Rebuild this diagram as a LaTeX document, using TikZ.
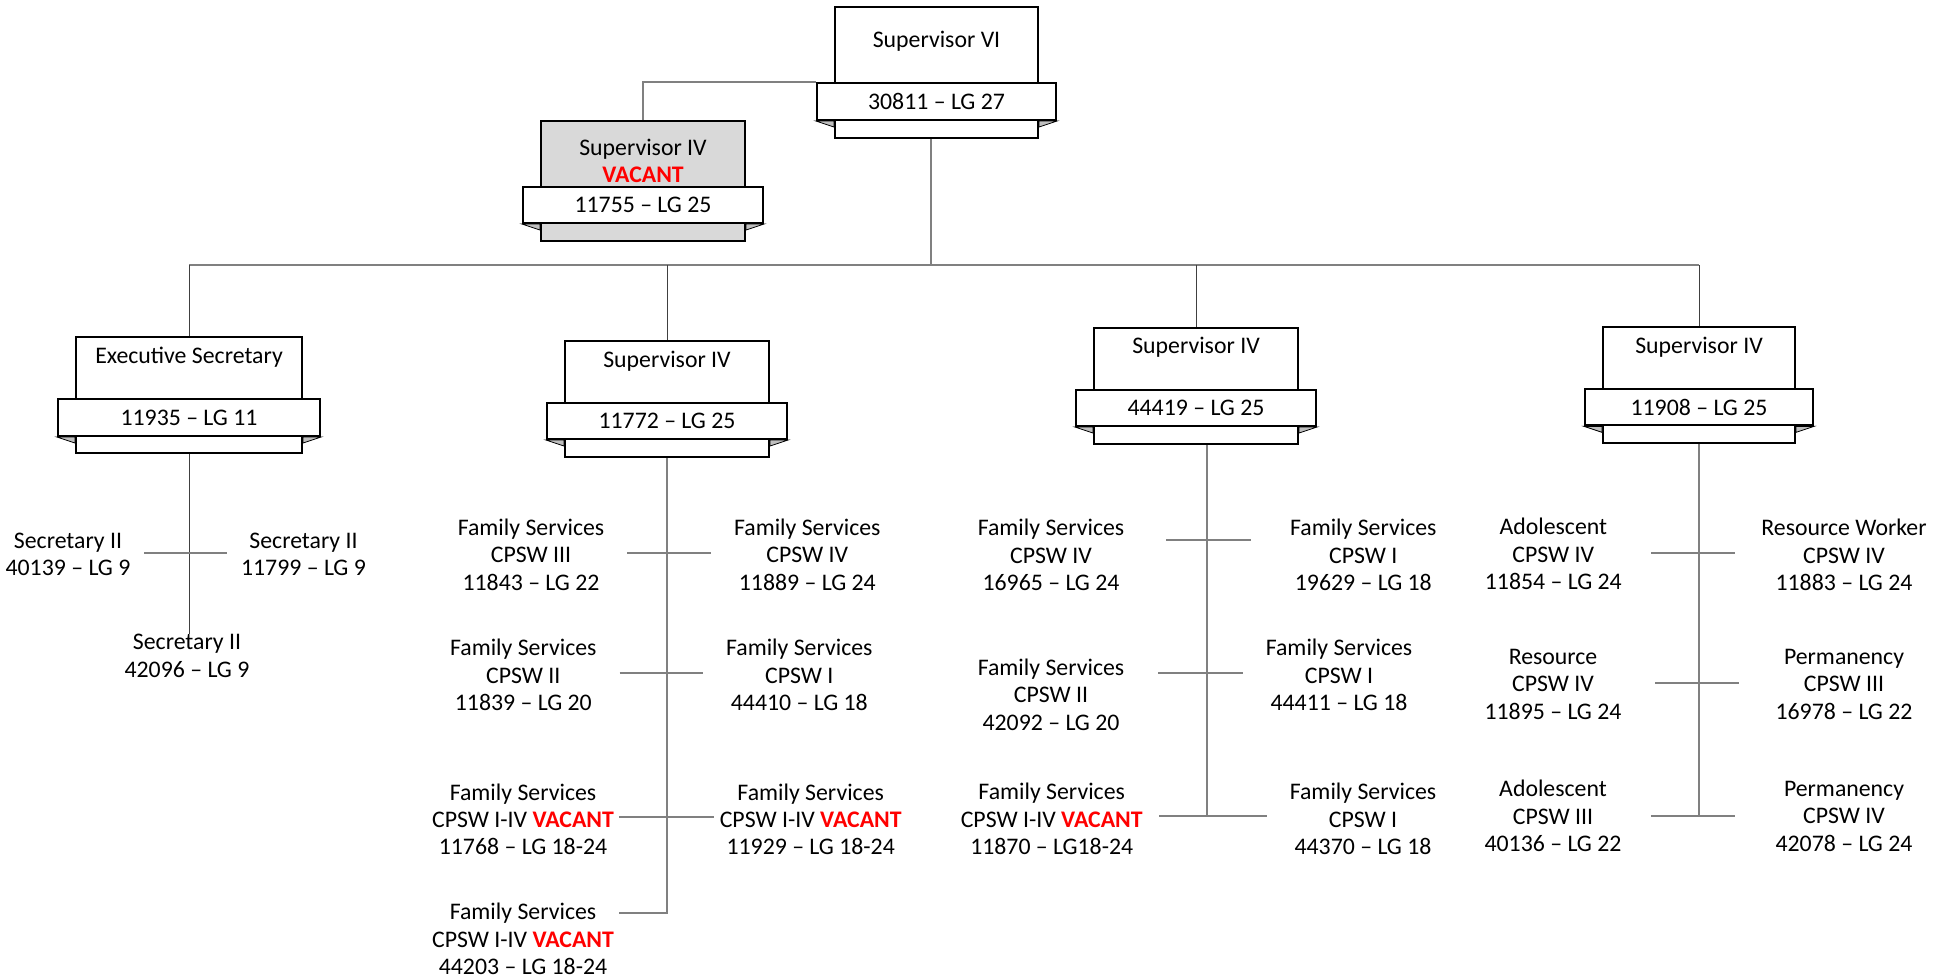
\documentclass[tikz,border=0pt]{standalone}
\usepackage{fontspec}
\setmainfont{Carlito}
\usepackage{tikz}
\usetikzlibrary{positioning}

\definecolor{vacred}{HTML}{FF0000}
\definecolor{vacgray}{HTML}{D9D9D9}
\definecolor{tabgray}{HTML}{BFBFBF}
\definecolor{linkgray}{HTML}{808080}

\newcommand{\px}{0.01714cm}
\newcommand{\vac}{\textbf{\color{vacred}VACANT}}

\tikzset{
	posbox/.style={draw, line width=1pt, fill=white, inner sep=0pt},
	ribbon/.style={draw, line width=1pt, fill=white, inner sep=0pt},
	tabfill/.style={draw, line width=0.4pt, fill=tabgray},
	title/.style={inner sep=0pt, align=center},
	staff/.style={align=center, inner sep=0pt, minimum width=192*\px},
	link/.style={draw=linkgray, line width=1pt},
	drop/.style={draw=black!75, line width=0.4pt}
}

\begin{document}
\begin{tikzpicture}[x=\px, y=-\px, every node/.style={font=\fontsize{11.6}{13.4}\selectfont}]
	\useasboundingbox (0,0) rectangle (1951,977);

	% staff under each supervisor
	\node[staff, minimum width=152*\px] (sa) at (68,554.5) {Secretary II\\40139 -- LG 9};
	\node[staff, minimum width=152*\px] (sb) at (303.5,554.5) {Secretary II\\11799 -- LG 9};
	\node[staff, minimum width=152*\px] (sc) at (187,656) {Secretary II\\42096 -- LG 9};

	\node[staff] (f1) at (531,554.7) {Family Services\\CPSW III\\11843 -- LG 22};
	\node[staff] (f2) at (807.3,554.7) {Family Services\\CPSW IV\\11889 -- LG 24};
	\node[staff] (f3) at (523.3,675) {Family Services\\CPSW II\\11839 -- LG 20};
	\node[staff] (f4) at (799.3,675) {Family Services\\CPSW I\\44410 -- LG 18};
	\node[staff] (f5) at (523,819.3) {Family Services\\CPSW I-IV \vac\\11768 -- LG 18-24};
	\node[staff] (f6) at (810.7,819.3) {Family Services\\CPSW I-IV \vac\\11929 -- LG 18-24};
	\node[staff] (f7) at (523,939) {Family Services\\CPSW I-IV \vac\\44203 -- LG 18-24};

	\node[staff, minimum width=230*\px] (g1) at (1051,555) {Family Services\\CPSW IV\\16965 -- LG 24};
	\node[staff, minimum width=224*\px] (g2) at (1363.3,555) {Family Services\\CPSW I\\19629 -- LG 18};
	\node[staff, minimum width=214*\px] (g3) at (1051,694.6) {Family Services\\CPSW II\\42092 -- LG 20};
	\node[staff] (g4) at (1339,675) {Family Services\\CPSW I\\44411 -- LG 18};
	\node[staff, minimum width=214*\px] (g5) at (1051.7,819) {Family Services\\CPSW I-IV \vac\\11870 -- LG18-24};
	\node[staff] (g6) at (1363,819) {Family Services\\CPSW I\\44370 -- LG 18};

	\node[staff, minimum width=195*\px] (h1) at (1553.3,554) {Adolescent\\CPSW IV\\11854 -- LG 24};
	\node[staff, minimum width=218*\px] (h2) at (1844,555) {Resource Worker\\CPSW IV\\11883 -- LG 24};
	\node[staff, minimum width=204*\px] (h3) at (1553,684) {Resource\\CPSW IV\\11895 -- LG 24};
	\node[staff, minimum width=209*\px] (h4) at (1844,684) {Permanency\\CPSW III\\16978 -- LG 22};
	\node[staff, minimum width=195*\px] (h5) at (1553,816) {Adolescent\\CPSW III\\40136 -- LG 22};
	\node[staff, minimum width=218*\px] (h6) at (1844,816) {Permanency\\CPSW IV\\42078 -- LG 24};

	% boxes
	\node[posbox, minimum width=203*\px, minimum height=131*\px] (s6) at (936.5,72.5) {};
	\node[posbox, fill=vacgray, minimum width=204*\px, minimum height=120*\px] (s4v) at (643,181) {};
	\node[posbox, minimum width=226*\px, minimum height=116*\px] (es) at (189,395) {};
	\node[posbox, minimum width=204*\px, minimum height=116*\px] (s4a) at (667,399) {};
	\node[posbox, minimum width=204*\px, minimum height=116*\px] (s4b) at (1196,386) {};
	\node[posbox, minimum width=192*\px, minimum height=116*\px] (s4c) at (1699,385.4) {};

	\node[ribbon, minimum width=239*\px, minimum height=37*\px] (s6r) at (936.5,101.5) {30811 -- LG 27};
	\node[ribbon, minimum width=240*\px, minimum height=36*\px] (s4vr) at (643,205) {11755 -- LG 25};
	\node[ribbon, minimum width=262*\px, minimum height=37*\px] (esr) at (189,417.5) {11935 -- LG 11};
	\node[ribbon, minimum width=240*\px, minimum height=36*\px] (s4ar) at (667,421) {11772 -- LG 25};
	\node[ribbon, minimum width=240*\px, minimum height=36*\px] (s4br) at (1196,408) {44419 -- LG 25};
	\node[ribbon, minimum width=228*\px, minimum height=36*\px] (s4cr) at (1699,407.3) {11908 -- LG 25};

	\foreach \b in {s6,s4v,es,s4a,s4b,s4c} {
		\draw[tabfill] (\b r.south west) -- (\b r.south west -| \b.west) -- ++(0,6) -- cycle;
		\draw[tabfill] (\b r.south east) -- (\b r.south east -| \b.east) -- ++(0,6) -- cycle;
	}

	\node[title] (s6t) at (936.5,41) {Supervisor VI};
	\node[title] (s4vt) at (643,161) {Supervisor IV\\\vac};
	\node[title] (est) at (189,357) {Executive Secretary};
	\node[title] (s4at) at (667,361) {Supervisor IV};
	\node[title] (s4bt) at (1196,347.5) {Supervisor IV};
	\node[title] (s4ct) at (1699,347) {Supervisor IV};

	% connectors
	\coordinate (bus) at (931,265);
	\draw[link] (bus |- s6.south) -- (bus);
	\draw[link] (es.north |- bus) -- (s4c.north |- bus);
	\foreach \b in {es,s4a,s4b,s4c}
		\draw[drop] (\b.north |- bus) -- (\b.north);
	\draw[link] (s6r.north west) -| (s4v.north);

	\coordinate (xe) at (189,552.7);
	\coordinate (xa1) at (667,552.7);
	\coordinate (xa2) at (667,672.7);
	\coordinate (xa3) at (667,816.7);
	\coordinate (xa4) at (667,912.7);
	\coordinate (xb1) at (1207,539.6);
	\coordinate (xb2) at (1207,672.9);
	\coordinate (xb3) at (1207,816.4);
	\coordinate (xc1) at (1699,552.9);
	\coordinate (xc2) at (1699,683.2);
	\coordinate (xc3) at (1699,816.4);

	\draw[drop] (es.south) -- (es.south |- sc.north);
	\draw[link] (s4a.south) -- (xa4) -- (xa4 -| f7.east);
	\draw[link] (xb3 |- s4b.south) -- (xb3);
	\draw[link] (s4c.south) -- (xc3);

	\foreach \c/\l/\r in {xe/sa/sb, xa1/f1/f2, xa2/f3/f4, xa3/f5/f6, xb1/g1/g2, xb2/g3/g4, xb3/g5/g6, xc1/h1/h2, xc2/h3/h4, xc3/h5/h6}
		\draw[link] (\c -| \l.east) -- (\c -| \r.west);
\end{tikzpicture}
\end{document}
